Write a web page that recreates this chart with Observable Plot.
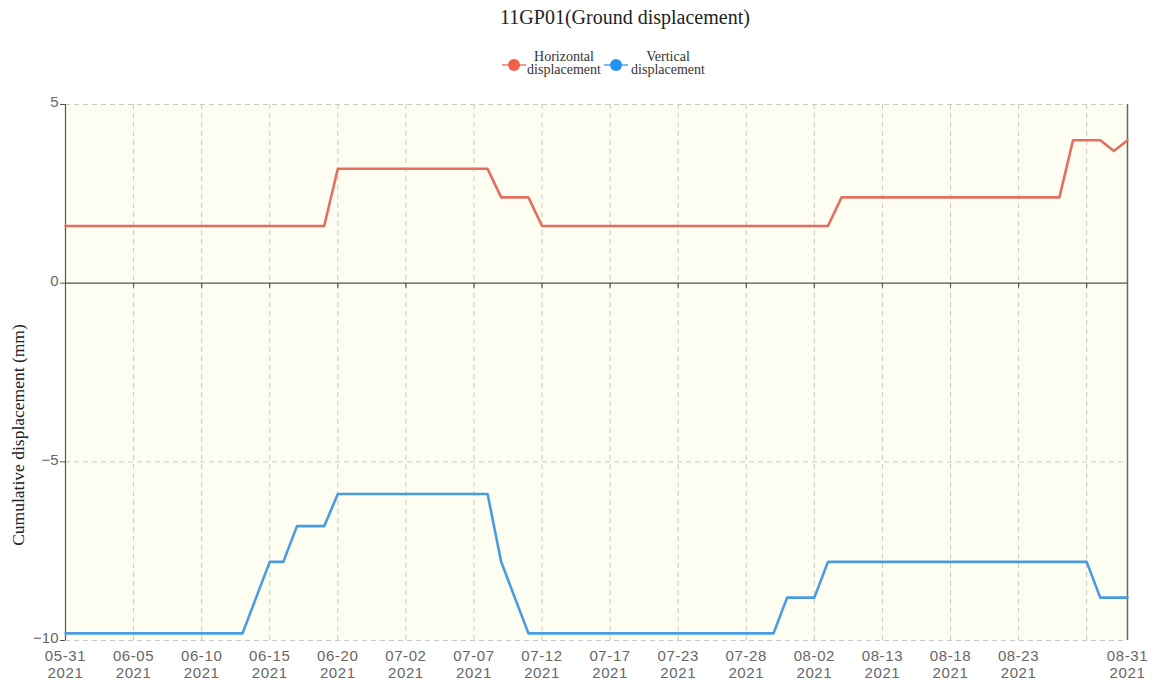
<!DOCTYPE html>
<html>
<head>
<meta charset="utf-8">
<script src="https://cdn.jsdelivr.net/npm/d3@7"></script>
<script src="https://cdn.jsdelivr.net/npm/@observablehq/plot@0.6"></script>
<style>
  html, body { margin: 0; padding: 0; background: #fff; }
  #wrap { position: relative; width: 1162px; height: 680px; overflow: hidden; }
  #head { position: relative; width: 1162px; height: 90px; }
  .title { position: absolute; left: 0; width: 1250px; top: 6px; text-align: center;
           font-family: "Liberation Serif", "DejaVu Serif", serif; font-size: 20px; color: #222; }
  .leg { position: absolute; top: 50px; font-family: "Liberation Serif", serif; font-size: 14px;
         line-height: 13px; color: #333; text-align: center; }
  .mk { position: absolute; top: 64px; width: 24px; height: 2px; }
  .dot { position: absolute; top: 59px; width: 12px; height: 12px; border-radius: 50%; }
  .ylab { position: absolute; left: 18px; top: 435px; white-space: nowrap;
          transform: translate(-50%, -50%) rotate(-90deg);
          font-family: "Liberation Serif", serif; font-size: 17.5px; color: #222; }
  #chart { position: absolute; left: 0; top: 90px; }
  #chart g[aria-label="x-axis tick label"] text { letter-spacing: 0.6px; }
</style>
</head>
<body>
<div id="wrap">
  <div id="head">
    <div class="title">11GP01(Ground displacement)</div>
  </div>
  <div id="chart"></div>
  <div class="ylab" id="ylab"></div>
</div>
<script>
const year = "2021";
const yLabel = "Cumulative displacement (mm)";
const dates = [
  "05-31","06-01","06-02","06-03","06-04","06-05","06-06","06-07","06-08","06-09",
  "06-10","06-11","06-12","06-13","06-14","06-15","06-16","06-17","06-18","06-19",
  "06-20","06-21","06-22","06-23","07-01","07-02","07-03","07-04","07-05","07-06",
  "07-07","07-08","07-09","07-10","07-11","07-12","07-13","07-14","07-15","07-16",
  "07-17","07-18","07-19","07-20","07-21","07-23","07-24","07-25","07-26","07-27",
  "07-28","07-29","07-30","07-31","08-01","08-02","08-03","08-04","08-06","08-09",
  "08-13","08-14","08-15","08-16","08-17","08-18","08-19","08-20","08-21","08-22",
  "08-23","08-24","08-25","08-26","08-27","08-28","08-29","08-30","08-31"
];
const horizontal = [
  1.6,1.6,1.6,1.6,1.6,1.6,1.6,1.6,1.6,1.6,
  1.6,1.6,1.6,1.6,1.6,1.6,1.6,1.6,1.6,1.6,
  3.2,3.2,3.2,3.2,3.2,3.2,3.2,3.2,3.2,3.2,
  3.2,3.2,2.4,2.4,2.4,1.6,1.6,1.6,1.6,1.6,
  1.6,1.6,1.6,1.6,1.6,1.6,1.6,1.6,1.6,1.6,
  1.6,1.6,1.6,1.6,1.6,1.6,1.6,2.4,2.4,2.4,
  2.4,2.4,2.4,2.4,2.4,2.4,2.4,2.4,2.4,2.4,
  2.4,2.4,2.4,2.4,4.0,4.0,4.0,3.7,4.0
];
const vertical = [
  -9.8,-9.8,-9.8,-9.8,-9.8,-9.8,-9.8,-9.8,-9.8,-9.8,
  -9.8,-9.8,-9.8,-9.8,-8.8,-7.8,-7.8,-6.8,-6.8,-6.8,
  -5.9,-5.9,-5.9,-5.9,-5.9,-5.9,-5.9,-5.9,-5.9,-5.9,
  -5.9,-5.9,-7.8,-8.8,-9.8,-9.8,-9.8,-9.8,-9.8,-9.8,
  -9.8,-9.8,-9.8,-9.8,-9.8,-9.8,-9.8,-9.8,-9.8,-9.8,
  -9.8,-9.8,-9.8,-8.8,-8.8,-8.8,-7.8,-7.8,-7.8,-7.8,
  -7.8,-7.8,-7.8,-7.8,-7.8,-7.8,-7.8,-7.8,-7.8,-7.8,
  -7.8,-7.8,-7.8,-7.8,-7.8,-7.8,-8.8,-8.8,-8.8
];
const gridDates = ["05-31","06-05","06-10","06-15","06-20","07-02","07-07","07-12","07-17","07-23","07-28","08-02","08-13","08-18","08-23","08-28"];
const labelDates = ["05-31","06-05","06-10","06-15","06-20","07-02","07-07","07-12","07-17","07-23","07-28","08-02","08-13","08-18","08-23","08-31"];
const yTicks = [-10, -5, 0, 5];
const seriesNames = ["Horizontal\ndisplacement", "Vertical\ndisplacement"];
const colors = ["#e3705f", "#4a9ce2"];
const legendDots = ["#f2604b", "#1f93f5"];

const hData = dates.map((d, i) => ({date: d, value: horizontal[i]}));
const vData = dates.map((d, i) => ({date: d, value: vertical[i]}));

document.getElementById("ylab").textContent = yLabel;

// legend (HTML above the SVG)
const head = document.getElementById("head");
const legX = [{mk: 502, txt: 564}, {mk: 604, txt: 668}];
seriesNames.forEach((name, i) => {
  const mk = document.createElement("div");
  mk.className = "mk"; mk.style.left = legX[i].mk + "px"; mk.style.background = colors[i]; mk.style.opacity = 0.7;
  head.appendChild(mk);
  const dot = document.createElement("div");
  dot.className = "dot"; dot.style.left = (legX[i].mk + 6) + "px"; dot.style.background = legendDots[i];
  head.appendChild(dot);
  const t = document.createElement("div");
  t.className = "leg"; t.style.left = (legX[i].txt - 60) + "px"; t.style.width = "120px";
  t.innerHTML = name.replace("\n", "<br>");
  head.appendChild(t);
});

const chart = Plot.plot({
  width: 1162,
  height: 590,
  marginTop: 14,
  marginBottom: 40,
  marginLeft: 65,
  marginRight: 35,
  style: {fontFamily: "'Liberation Sans', Arial, sans-serif", background: "transparent", overflow: "visible"},
  x: {type: "point", domain: dates, padding: 0},
  y: {domain: [-10, 5]},
  marks: [
    Plot.frame({fill: "#fdfdf1", stroke: "none"}),
    Plot.ruleX(gridDates, {stroke: "#c9c9c4", strokeDasharray: "5,4", strokeWidth: 1}),
    Plot.ruleY([5, -5, -10], {stroke: "#c9c9c4", strokeDasharray: "5,4", strokeWidth: 1}),
    Plot.ruleY([0], {stroke: "#555", strokeWidth: 1.2}),
    Plot.ruleX(gridDates.slice(1), {y1: () => 0, y2: () => 0, insetBottom: -5, stroke: "#555", strokeWidth: 1.2}),
    Plot.ruleX([dates[0]], {stroke: "#555", strokeWidth: 1.2}),
    Plot.ruleX([dates[dates.length - 1]], {stroke: "#666", strokeWidth: 1.5}),
    Plot.axisY({ticks: yTicks, tickSize: 5, text: null, stroke: "#555", label: null}),
    Plot.axisY({ticks: yTicks, tickSize: 0, tickPadding: 7, fontSize: 15, color: "#666",
                dy: -2, label: null}),
    Plot.axisX({ticks: labelDates, tickSize: 0, tickPadding: 9, fontSize: 15, color: "#666",
                lineHeight: 1.1, label: null, tickFormat: d => d + "\n" + year}),
    Plot.line(hData, {x: "date", y: "value", stroke: colors[0], strokeWidth: 2.6}),
    Plot.line(vData, {x: "date", y: "value", stroke: colors[1], strokeWidth: 2.6})
  ]
});
document.getElementById("chart").appendChild(chart);
</script>
</body>
</html>
